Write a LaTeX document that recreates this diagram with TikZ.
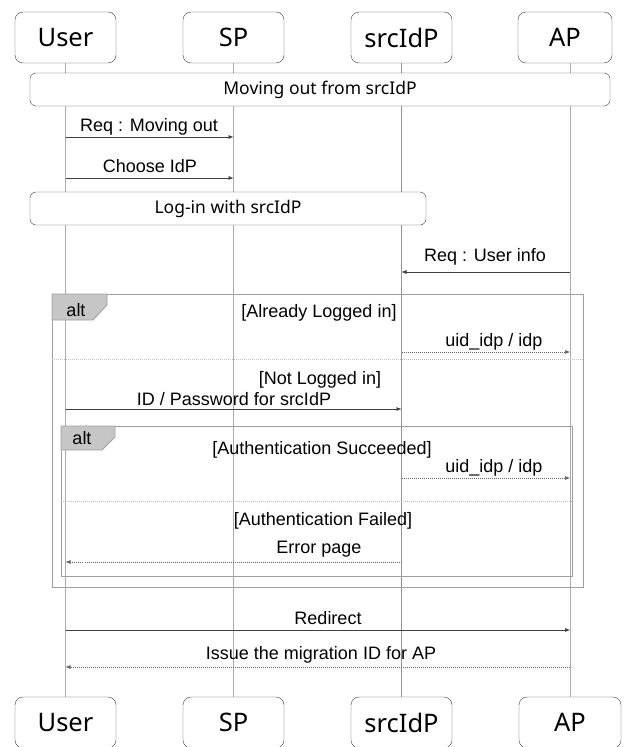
\documentclass[tikz,border=0pt]{standalone}
\usepackage{fontspec}
\setmainfont{Liberation Sans}
\newfontfamily\partfont{Noto Sans}
\usetikzlibrary{arrows.meta,positioning}

\tikzset{
  part/.style = {draw=black!75, rounded corners=8pt, minimum width=101pt,
                 minimum height=51pt, inner sep=0pt,
                 font=\partfont\fontsize{25.5}{30}\selectfont},
  grp/.style = {draw=black!75, rounded corners=6pt, minimum height=33pt,
                inner sep=0pt, font=\partfont\fontsize{17.5}{20}\selectfont},
  life/.style = {draw=gray!65, line width=0.9pt},
  lbl/.style = {anchor=south, inner sep=0pt, outer ysep=2pt,
                text height=13pt, text depth=4pt,
                font=\fontsize{18}{21}\selectfont},
  grd/.style = {inner sep=0pt, font=\fontsize{18}{21}\selectfont},
  msg/.style = {draw=black!75, line width=0.6pt,
                -{Latex[length=5pt,width=4pt]}},
  ret/.style = {msg, draw=black!60, dash pattern=on 1pt off 1pt},
  frame/.style = {draw=gray!75, line width=0.8pt},
  tab/.style = {draw=gray!75, fill=gray!45, line width=0.8pt},
  sep/.style = {draw=gray!50, line width=0.5pt, dash pattern=on 1pt off 1pt}
}

\begin{document}
\begin{tikzpicture}[x=1pt, y=-1pt]
\path[use as bounding box, clip] (0,0) rectangle (624,747);

% participants
\node[part] (userT) at (65.5,37.5) {User};
\node[part] (spT) at (233.5,37.5) {SP};
\node[part] (srcT) at (401.5,37.5) {srcIdP};
\node[part, minimum width=94pt] (apT) at (565,37.5) {AP};
\node[part] (userB) at (65.5,722.5) {User};
\node[part] (spB) at (233.5,722.5) {SP};
\node[part] (srcB) at (401.5,722.5) {srcIdP};
\node[part, minimum width=102pt] (apB) at (570,722.5) {AP};

\draw[life] (userT) -- (userB);
\draw[life] (spT) -- (spB);
\draw[life, draw=gray!85, line width=0.6pt] (srcT) -- (srcB);
\draw[life] (apB |- apT.south) -- (apB);

% groups
\node[grp, fill=white, minimum width=580pt] (g1) at (320,89.5) {Moving out from srcIdP};
\node[grp, fill=white, minimum width=396pt] (g2) at (228,208.5) {Log-in with srcIdP};

% messages
\node[lbl] (m1) at (149,137) {Req : Moving out};
\draw[msg] (m1.south -| userT) -- (m1.south -| spT);
\node[lbl] (m2) at (150,178) {Choose IdP};
\draw[msg] (m2.south -| userT) -- (m2.south -| spT);
\node[lbl, outer ysep=6.2pt] (m3) at (485,272) {Req : User info};
\draw[msg] (m3.south -| apB) -- (m3.south -| srcT);

% alt: logged in or not
\draw[frame] (52,294) rectangle (583,587);
\draw[tab] (52,294) -- (107,294) -- (107,305) -- (93,320) -- (52,320) -- cycle;
\node[grd] (alt1) at (76,310) {alt};
\node[grd] (c1) at (319,313) {[Already Logged in]};
\node[lbl] (m4) at (494,352) {uid\_idp / idp};
\draw[ret] (m4.south -| srcT) -- (m4.south -| apB);
\draw[sep] (52,359) -- (583,359);
\node[grd] (c2) at (320,380) {[Not Logged in]};
\node[lbl, outer ysep=0pt] (m5) at (234,409) {ID / Password for srcIdP};
\draw[msg] (m5.south -| userT) -- (m5.south -| srcT);

% alt: authentication
\draw[frame] (61,426) rectangle (572,576);
\draw[tab] (61,426) -- (115,426) -- (115,437) -- (102,450) -- (61,450) -- cycle;
\node[grd] (alt2) at (82,438) {alt};
\node[grd] (c3) at (322,450) {[Authentication Succeeded]};
\node[lbl] (m6) at (494,478) {uid\_idp / idp};
\draw[ret] (m6.south -| srcT) -- (m6.south -| apB);
\draw[sep] (61,501) -- (572,501);
\node[grd] (c4) at (323,521) {[Authentication Failed]};
\node[lbl, outer ysep=5pt] (m7) at (319,562) {Error page};
\draw[ret] (m7.south -| srcT) -- (m7.south -| userT);

\node[lbl] (m8) at (328,630) {Redirect};
\draw[msg] (m8.south -| userT) -- (m8.south -| apB);
\node[lbl, outer ysep=4pt] (m9) at (321,667) {Issue the migration ID for AP};
\draw[ret] (m9.south -| apB) -- (m9.south -| userT);
\end{tikzpicture}
\end{document}
